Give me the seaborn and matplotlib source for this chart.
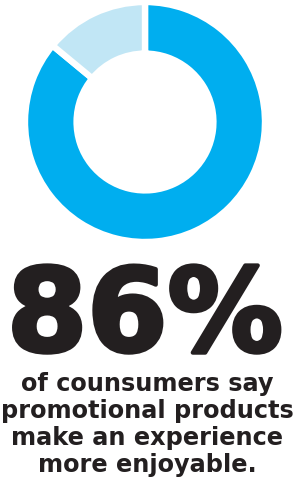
import matplotlib
matplotlib.use("Agg")
import matplotlib.pyplot as plt
import matplotlib.patheffects as pe
import seaborn as sns

labels = ["Say more enjoyable", "Other"]
values = [86, 14]
colors = ["#00AEEF", "#C1E6F5"]
headline = "86%"
caption = ["of counsumers say", "promotional products", "make an experience", "more enjoyable."]

sns.set_theme(style="white")
plt.rcParams['font.family'] = ['DejaVu Sans']

W, H = 294, 494
fig = plt.figure(figsize=(W / 100, H / 100), dpi=100)
fig.patch.set_facecolor("white")

cx, cy, R = 145, 122, 120
ax = fig.add_axes([(cx - R) / W, (H - cy - R) / H, 2 * R / W, 2 * R / H])
ax.pie(values, colors=colors, startangle=90, counterclock=False,
       radius=1.0,
       wedgeprops=dict(width=0.43, edgecolor="white", linewidth=4.6))
ax.set_xlim(-1, 1)
ax.set_ylim(-1, 1)
ax.set_axis_off()

ink = "#231F20"
fig.text(0.5 - 2 / W, 1 - 351 / H, headline, ha="center", va="baseline",
         fontsize=83, fontweight="bold", color=ink,
         path_effects=[pe.withStroke(linewidth=3, foreground=ink)])

baselines = [391, 418, 445, 472]
for line, y in zip(caption, baselines):
    fig.text(0.5, 1 - y / H, line, ha="center", va="baseline",
             fontsize=17.3, fontweight="bold", color=ink)

fig.savefig("out.png", dpi=100, facecolor="white")
